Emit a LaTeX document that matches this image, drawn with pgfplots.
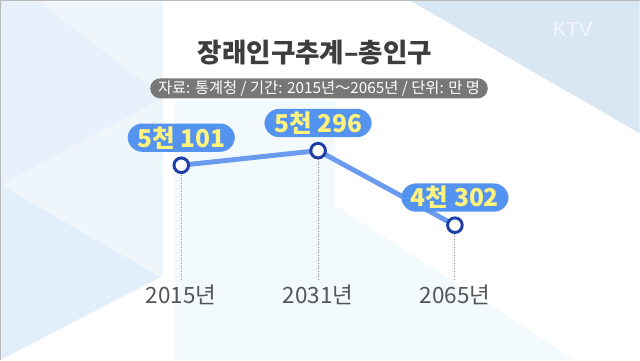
\documentclass[border=0pt]{standalone}
\usepackage{pgfplots}
\pgfplotsset{compat=1.18}
\usepackage{fontspec}
\setmainfont{Noto Sans CJK KR}
\newfontfamily\latfont{Liberation Sans}
\definecolor{bgA}{HTML}{E6F1FB}
\definecolor{bgB}{HTML}{E2EFFA}
\definecolor{bgC}{HTML}{EEF6FC}
\definecolor{bgTR}{HTML}{D9E7F3}
\definecolor{bgCy}{HTML}{F3FAFD}
\definecolor{titlegray}{HTML}{3D3D3D}
\definecolor{subgray}{HTML}{777777}
\definecolor{yeargray}{HTML}{555555}
\definecolor{valblue}{HTML}{5593F0}
\definecolor{valyellow}{HTML}{FFF380}
\definecolor{linecol}{HTML}{6A9BEF}
\definecolor{ringcol}{HTML}{1E3FA8}
\definecolor{dotgray}{HTML}{8A8A8A}
\begin{document}
\begin{tikzpicture}
\begin{scope}[x=0.025cm,y=-0.025cm]
\fill[white] (0,0) rectangle (640,360);
\fill[bgC] (0,0) rectangle (163,277);
\fill[bgA] (0,0)--(37,0)--(163,97)--(0,185)--cycle;
\fill[bgB] (0,185)--(160,277)--(0,360)--cycle;
\fill[bgCy] (175,100)--(335,100)--(335,205)--(575,360)--(175,360)--cycle;
\fill[bgTR] (410,0)--(640,0)--(640,133)--cycle;
\draw[gray!55, line width=0.7pt] (0,0.5)--(640,0.5);
\draw[gray!55, line width=0.7pt] (0.5,0)--(0.5,360);
\node[font=\latfont\fontsize{14.5}{16}\selectfont, text=white!96!blue] at (573,29) {KTV};
\node[font=\bfseries\fontsize{18.9}{22}\selectfont, text=titlegray] at (315,52) {장래인구추계–총인구};
\node[fill=subgray, rounded corners=0.25cm, text=white, minimum width=8.45cm, minimum height=0.5cm, inner sep=0pt, font=\fontsize{10.9}{12}\selectfont] at (319,88) {자료: 통계청 / 기간: 2015년～2065년 / 단위: 만 명};
\end{scope}
\begin{axis}[at={(0,-9cm)}, anchor=south west, width=16cm, height=9cm, scale only axis,
  xmin=-1.3212, xmax=3.3504, ymin=2504, ymax=7298,
  axis line style={draw=none}, tick style={draw=none}, ytick=\empty,
  xtick={0,1,2}, xticklabels={2015년,2031년,2065년},
  xticklabel style={anchor=center, yshift=1.625cm, text=yeargray, font=\fontsize{16}{18}\selectfont},
  clip=false]
\addplot[dotgray, line width=0.7pt, dash pattern=on 0.7pt off 1.2pt] coordinates {(0,3570) (0,5101)};
\addplot[dotgray, line width=0.7pt, dash pattern=on 0.7pt off 1.2pt] coordinates {(1,3570) (1,5296)};
\addplot[dotgray, line width=0.7pt, dash pattern=on 0.7pt off 1.2pt] coordinates {(2,3570) (2,4302)};
\addplot[linecol, line width=3.5pt, mark=*, mark size=5.2pt,
  mark options={fill=white, draw=ringcol, line width=2.1pt},
  nodes near coords, point meta=explicit symbolic,
  every node near coord/.style={fill=valblue, text=valyellow, rounded corners=0.37cm,
    inner xsep=0.24cm, inner ysep=0.07cm, anchor=south, yshift=0.3cm,
    font=\bfseries\fontsize{17.5}{17.5}\selectfont}]
  coordinates {(0,5101) [5천 101] (1,5296) [5천 296] (2,4302) [4천 302]};
\end{axis}
\end{tikzpicture}
\end{document}
